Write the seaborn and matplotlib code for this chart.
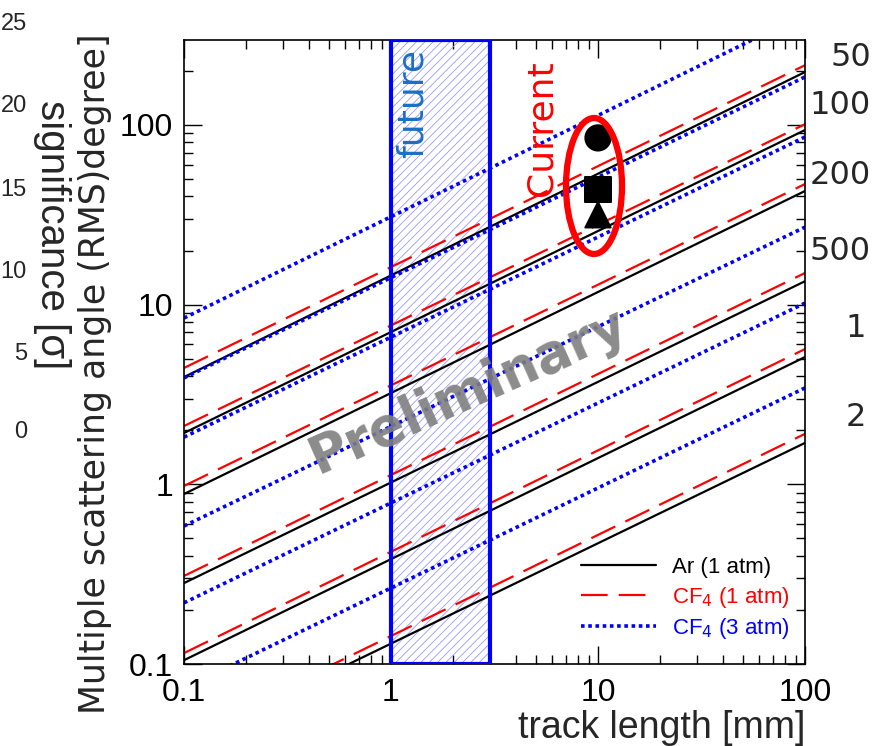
import pandas as pd
import seaborn as sns
import matplotlib.pyplot as plt
from matplotlib.patches import Ellipse
from matplotlib.lines import Line2D
from matplotlib.ticker import FuncFormatter, LogLocator

# track length [mm] at the two ends of each curve
track_ends = [0.1, 100]
energies = ['50 keV', '100 keV', '200 keV', '500 keV', '1 MeV', '2 MeV']
energy_labels = ['50', '100', '200', '500', '1', '2']

# RMS multiple scattering angle [deg] read at 0.1 mm and at 100 mm
ar_1atm_start = [3.95, 1.93, 0.883, 0.282, 0.105, 0.0359]
ar_1atm_end = [197, 93.7, 42.9, 13.5, 5.11, 1.70]
cf4_1atm_start = [4.44, 2.11, 0.979, 0.309, 0.115, 0.0392]
cf4_1atm_end = [215, 101, 46.9, 15.0, 5.66, 1.91]
cf4_3atm_start = [8.42, 3.91, 1.83, 0.586, 0.219, 0.0735]
cf4_3atm_end = [414, 185, 85.7, 27.0, 10.2, 3.44]

# current measurements at 10 mm
current_length = [10, 10, 10]
current_angle = [84.7, 43.6, 31.6]
current_kind = ['circle', 'square', 'triangle']

# future track length range [mm]
future_band = [1, 3]

# tick numbers of the neighbouring significance plot
sig_ticks = ['25', '20', '15', '10', '5', '0']

gases = ['Ar (1 atm)', 'CF$_4$ (1 atm)', 'CF$_4$ (3 atm)']
starts = [ar_1atm_start, cf4_1atm_start, cf4_3atm_start]
ends = [ar_1atm_end, cf4_1atm_end, cf4_3atm_end]

rows = []
for gas, s, e in zip(gases, starts, ends):
    for en, a0, a1 in zip(energies, s, e):
        rows.append({'length': track_ends[0], 'angle': a0, 'gas': gas, 'energy': en})
        rows.append({'length': track_ends[1], 'angle': a1, 'gas': gas, 'energy': en})
df = pd.DataFrame(rows)

sns.set_style('ticks')
plt.rcParams['font.family'] = ['Liberation Sans', 'DejaVu Sans']
plt.rcParams['hatch.linewidth'] = 0.6

W, H = 873, 746
px = lambda x: x / W
py = lambda y: 1 - y / H

fig = plt.figure(figsize=(W / 100, H / 100), dpi=100)
ax = fig.add_axes([px(184), py(664), px(805) - px(184), py(40) - py(664)])

styles = {
    gases[0]: dict(color='black', lw=1.6, ls='-'),
    gases[1]: dict(color='#ff0000', lw=1.6, ls=(0, (12, 5))),
    gases[2]: dict(color='#0000ff', lw=2.6, ls=(0, (1, 1))),
}
for gas in gases:
    sub = df[df['gas'] == gas]
    sns.lineplot(data=sub, x='length', y='angle', units='energy', estimator=None,
                 legend=False, ax=ax, **styles[gas])

ax.set_xscale('log')
ax.set_yscale('log')
ax.set_xlim(0.1, 100)
ax.set_ylim(0.1, 297)

# future band
ax.axvspan(future_band[0], future_band[1], facecolor='none', edgecolor='#9a9aff',
           lw=0, hatch='////', zorder=1)
ax.axvspan(future_band[0], future_band[1], facecolor='none', edgecolor='#0000ff',
           lw=3, zorder=3)

# current points
sns.scatterplot(x=current_length, y=current_angle, style=current_kind,
                markers={'circle': 'o', 'square': 's', 'triangle': '^'},
                color='black', s=330, edgecolor='black', legend=False, ax=ax, zorder=5)
ell = Ellipse(((594 - 184) / 621, (664 - 186) / 624), 56 / 621, 136 / 624,
              transform=ax.transAxes, facecolor='none', edgecolor='#ff0000', lw=4.5,
              zorder=6, clip_on=False)
ax.add_patch(ell)

fig.text(px(413), py(104), 'future', rotation=90, color='#1a6fc4',
         fontsize=26, family='DejaVu Sans', ha='center', va='center')
fig.text(px(541), py(128), 'Current', rotation=90, color='#ff0000', fontsize=26,
         family='DejaVu Sans', ha='center', va='center')
fig.text(px(468), py(392), 'Preliminary', rotation=24, color='#7f7f7f', alpha=0.9,
         fontsize=38, fontweight='bold', family='DejaVu Sans', ha='center', va='center',
         zorder=10)

# axes styling (ROOT-like inner ticks on all sides)
fmt = FuncFormatter(lambda v, _: f'{v:g}')
ax.xaxis.set_major_formatter(fmt)
ax.yaxis.set_major_formatter(fmt)
ax.xaxis.set_minor_locator(LogLocator(subs=range(2, 10)))
ax.yaxis.set_minor_locator(LogLocator(subs=range(2, 10)))
ax.tick_params(which='both', direction='in', top=True, right=True, width=1, colors='black')
ax.tick_params(which='major', length=13, labelsize=23, pad=8)
ax.tick_params(which='minor', length=6.5)
ax.tick_params(axis='x', which='major', pad=10)
for sp in ax.spines.values():
    sp.set_linewidth(1.2)
    sp.set_color('black')
ax.set_xlabel('')
ax.set_ylabel('')

# legend
handles = [Line2D([], [], **styles[g]) for g in gases]
ax.legend(handles, gases, loc='upper left', bbox_to_anchor=((572 - 184) / 621, (664 - 548) / 624),
          frameon=False, fontsize=16, handlelength=3.4, labelspacing=0.3,
          handletextpad=0.7, borderaxespad=0,
          labelcolor=['black', '#ff0000', '#0000ff'])

# slide annotations around the plot
fig.text(px(95), py(374), 'Multiple scattering angle (RMS)degree]', rotation=90,
         fontsize=25, family='DejaVu Sans', ha='center', va='center')
fig.text(px(805), py(728), 'track length [mm]', fontsize=27, ha='right', va='center')
fig.text(px(52), py(235), 'significance [σ]', rotation=-90, fontsize=29,
         ha='center', va='center')
for lab, yy in zip(sig_ticks, [24, 106, 190, 272, 354, 432]):
    fig.text(px(27), py(yy), lab, fontsize=17, ha='right', va='center')
for lab, yy in zip(energy_labels, [57, 105, 175, 252, 328, 417]):
    xx = 871 if len(lab) > 1 else 866
    fig.text(px(xx), py(yy), lab, fontsize=23, family='DejaVu Sans', ha='right', va='center')

fig.savefig('out.png', dpi=100)
